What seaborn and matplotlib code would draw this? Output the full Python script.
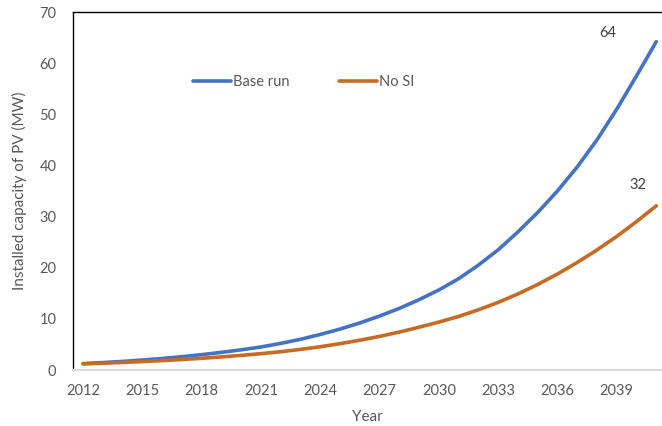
import numpy as np
import pandas as pd
import matplotlib
matplotlib.use("Agg")
import matplotlib.pyplot as plt
import seaborn as sns

years = list(range(2012, 2042))
base_run = [1.25, 1.45, 1.68, 1.95, 2.25, 2.6, 3.0, 3.45, 3.95, 4.5,
            5.2, 6.0, 6.95, 8.0, 9.2, 10.55, 12.05, 13.75, 15.65, 17.85,
            20.5, 23.5, 27.0, 30.8, 35.0, 39.7, 45.0, 51.0, 57.5, 64.2]
no_si = [1.2, 1.33, 1.48, 1.65, 1.84, 2.05, 2.29, 2.56, 2.86, 3.2,
         3.58, 4.03, 4.55, 5.15, 5.82, 6.57, 7.42, 8.37, 9.37, 10.47,
         11.77, 13.22, 14.87, 16.72, 18.77, 21.02, 23.47, 26.12, 29.02, 32.1]
series_names = ["Base run", "No SI"]
end_labels = ["64", "32"]
x_ticks = list(range(2012, 2040, 3))

df = pd.DataFrame({
    "Year": years * 2,
    "Capacity": base_run + no_si,
    "Scenario": [series_names[0]] * len(years) + [series_names[1]] * len(years),
})

sns.set_style("white")
plt.rcParams["font.family"] = ["Lato", "DejaVu Sans"]

text_color = "#595959"
palette = {"Base run": "#4472C4", "No SI": "#C66A24"}

fig = plt.figure(figsize=(6.62, 4.26), dpi=100)
ax = fig.add_axes([73 / 662, 56 / 426, 589 / 662, 358 / 426])

sns.lineplot(data=df, x="Year", y="Capacity", hue="Scenario", palette=palette,
             linewidth=2.6, ax=ax, solid_capstyle="round", solid_joinstyle="round")

ax.set_xlim(2011.49, 2041.29)
ax.set_ylim(0, 70)
ax.set_xticks(x_ticks)
ax.set_xticklabels([str(t) for t in x_ticks])
ax.set_yticks(range(0, 71, 10))
ax.tick_params(axis="x", length=0, labelsize=10.5, colors=text_color, pad=10)
ax.tick_params(axis="y", length=0, labelsize=10.5, colors=text_color, pad=12)

ax.set_xlabel("Year", fontsize=11, color=text_color, labelpad=9)
ax.set_ylabel("Installed capacity of PV (MW)", fontsize=11, color=text_color, labelpad=9)

for side in ["left", "top"]:
    ax.spines[side].set_color("black")
    ax.spines[side].set_linewidth(1.0)
ax.spines["bottom"].set_color("#D9D9D9")
ax.spines["bottom"].set_linewidth(1.5)
ax.spines["right"].set_visible(False)

# value labels at the end of each series
offsets = [(-49, 9), (-18, 21)]
for vals, lab, off in zip([base_run, no_si], end_labels, offsets):
    ax.annotate(lab, xy=(years[-1], vals[-1]), xytext=off, textcoords="offset pixels",
                ha="center", va="center", fontsize=10.5, color="#404040")

leg = ax.legend(loc="center", bbox_to_anchor=(0.392, 0.804), ncol=2, frameon=False,
                fontsize=10.5, handlelength=2.6, handletextpad=0.15, columnspacing=3.4)
for t in leg.get_texts():
    t.set_color(text_color)
for h in leg.get_lines():
    h.set_linewidth(2.6)

fig.savefig("out.png", dpi=100)
